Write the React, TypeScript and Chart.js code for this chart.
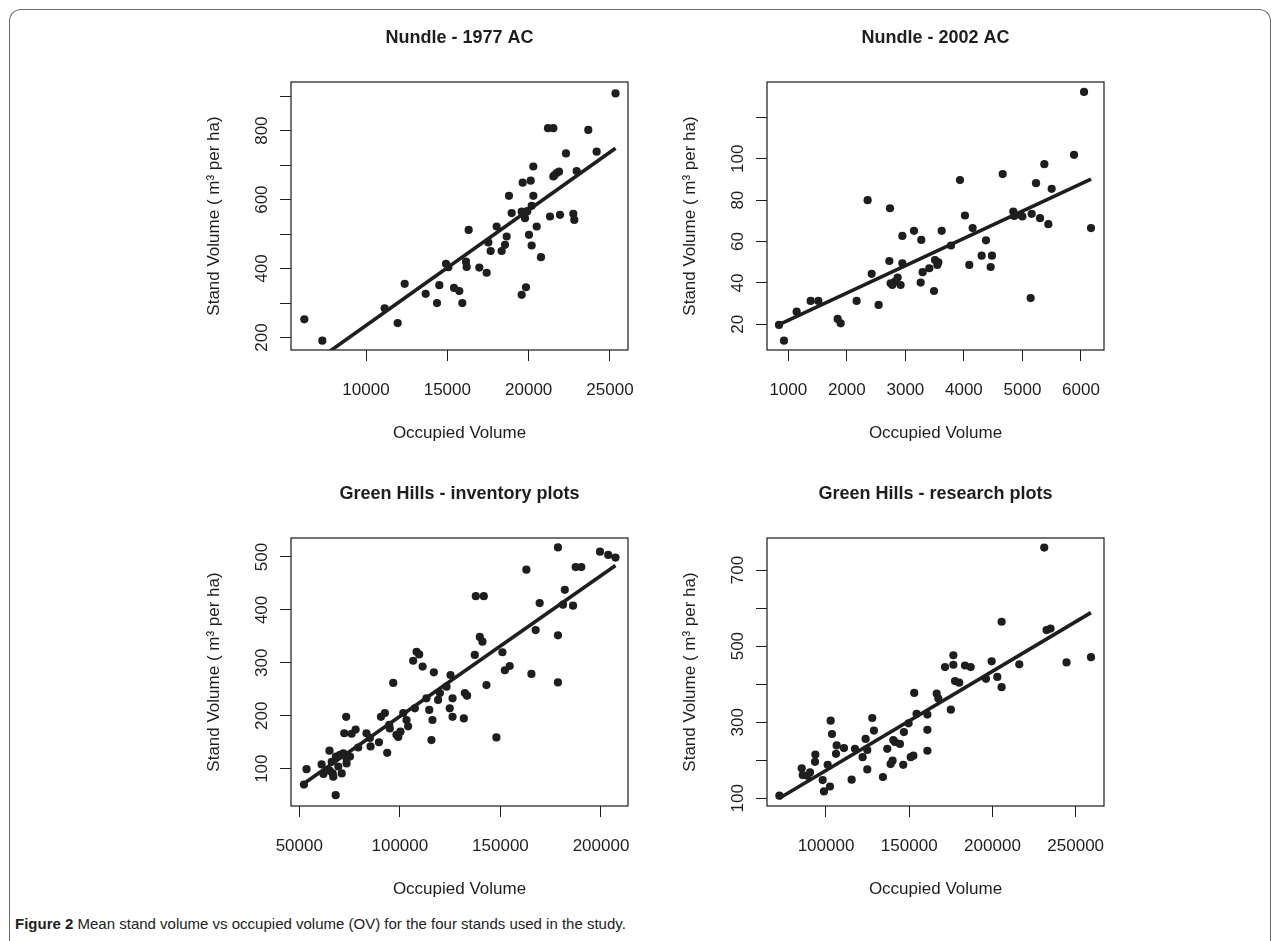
import React, { useEffect, useRef } from "react";
import { Chart, registerables } from "chart.js";

Chart.register(...registerables);

// ---------------- Nundle - 1977 AC ----------------
const nundle1977X = [6209, 7316, 11147, 11947, 12377, 13668, 14364, 14508, 14918, 15061, 15410, 15737, 15922, 16311, 16147, 16188, 16967, 17418, 17520, 17663, 18032, 18340, 18545, 18647, 18791, 18955, 19569, 19836, 19633, 19571, 19879, 19774, 20020, 20125, 20286, 20184, 19918, 20184, 20286, 20494, 20757, 21188, 21516, 21311, 21516, 21723, 21575, 21864, 21926, 22295, 22745, 22807, 22950, 23667, 24179, 25340];
const nundle1977Y = [253, 191, 285, 242, 356, 327, 300, 352, 414, 404, 344, 335, 300, 512, 420, 405, 403, 388, 476, 451, 522, 451, 469, 493, 611, 561, 324, 346, 649, 565, 565, 546, 498, 655, 611, 582, 567, 467, 696, 522, 433, 807, 807, 551, 667, 677, 670, 681, 556, 734, 559, 541, 683, 802, 739, 908];
const nundle1977FitX = [6209, 25340];
const nundle1977FitY = [108, 749];
const nundle1977XRange = [5389, 26107];
const nundle1977YRange = [164, 941];
const nundle1977XTicks = [10000, 15000, 20000, 25000];
const nundle1977XLabels = ["10000", "15000", "20000", "25000"];
const nundle1977YTicks = [200, 300, 400, 500, 600, 700, 800, 900];
const nundle1977YLabels = ["200", "", "400", "", "600", "", "800", ""];

// ---------------- Nundle - 2002 AC ----------------
const nundle2002X = [841, 926, 1142, 1382, 1513, 1843, 1894, 2167, 2355, 2424, 2543, 2726, 2737, 2748, 2777, 2822, 2868, 2919, 2948, 2948, 3147, 3272, 3261, 3295, 3409, 3489, 3506, 3546, 3563, 3620, 3779, 3933, 4018, 4092, 4149, 4303, 4377, 4457, 4479, 4662, 4844, 4861, 4969, 4998, 5140, 5157, 5232, 5300, 5374, 5442, 5499, 5881, 6052, 6171];
const nundle2002Y = [19.7, 12.1, 26.1, 31.3, 31.3, 22.6, 20.5, 31.3, 80.0, 44.4, 29.4, 50.6, 76.1, 39.8, 39.0, 40.6, 42.6, 39.0, 62.7, 49.5, 65.2, 60.8, 40.2, 45.2, 47.1, 36.1, 51.1, 48.7, 50.0, 65.2, 58.1, 89.7, 72.6, 48.7, 66.5, 53.2, 60.6, 47.7, 53.2, 92.6, 74.5, 72.4, 72.9, 72.1, 32.7, 73.4, 88.2, 71.3, 97.4, 68.4, 85.5, 101.9, 132.3, 66.5];
const nundle2002FitX = [841, 6171];
const nundle2002FitY = [19.9, 90.2];
const nundle2002XRange = [636, 6393];
const nundle2002YRange = [7.6, 137.1];
const nundle2002XTicks = [1000, 2000, 3000, 4000, 5000, 6000];
const nundle2002XLabels = ["1000", "2000", "3000", "4000", "5000", "6000"];
const nundle2002YTicks = [20, 40, 60, 80, 100, 120];
const nundle2002YLabels = ["20", "40", "60", "80", "100", ""];

// ---------------- Green Hills - inventory plots ----------------
const inventoryX = [52300, 53600, 61100, 62000, 65000, 65200, 66100, 66600, 66900, 68100, 68200, 69400, 70200, 71100, 71900, 73500, 73500, 75200, 73300, 72350, 76000, 78000, 79300, 83400, 85100, 85430, 89600, 90600, 92550, 93700, 94700, 95000, 96700, 98300, 99200, 100300, 101700, 103300, 104100, 106600, 108300, 109600, 111300, 107450, 113200, 115700, 114600, 116200, 116900, 119000, 119900, 123200, 125200, 124800, 126200, 126200, 131800, 132300, 133400, 137250, 137750, 141720, 139730, 141060, 143050, 148000, 151000, 152200, 154600, 162900, 165400, 167500, 169500, 178600, 178600, 178600, 181100, 182000, 186100, 187400, 190200, 199500, 203600, 207200];
const inventoryY = [70, 99, 108, 90, 134, 96, 113, 91, 85, 50, 123, 104, 126, 91, 129, 110, 119, 123, 198, 167, 166, 174, 140, 167, 158, 142, 150, 198, 205, 130, 183, 176, 262, 164, 160, 170, 205, 192, 180, 304, 321, 316, 293, 214, 233, 154, 211, 192, 282, 230, 243, 255, 277, 214, 198, 233, 195, 243, 238, 315, 426, 426, 349, 340, 258, 159, 320, 286, 294, 476, 279, 362, 413, 518, 352, 263, 410, 438, 408, 481, 481, 510, 504, 499];
const inventoryFitX = [52300, 207200];
const inventoryFitY = [72, 484];
const inventoryXRange = [45873, 213424];
const inventoryYRange = [29.5, 535.9];
const inventoryXTicks = [50000, 100000, 150000, 200000];
const inventoryXLabels = ["50000", "100000", "150000", "200000"];
const inventoryYTicks = [100, 200, 300, 400, 500];
const inventoryYLabels = ["100", "200", "300", "400", "500"];

// ---------------- Green Hills - research plots ----------------
const researchX = [72000, 85400, 86000, 88800, 90400, 93400, 93600, 98000, 98800, 102400, 101000, 102800, 103600, 106000, 106400, 110800, 115400, 117400, 122000, 124800, 123800, 124800, 127800, 128800, 134200, 136800, 140000, 138800, 140400, 141400, 144400, 146800, 146400, 149600, 150900, 152500, 153000, 154400, 160900, 160900, 160900, 166500, 167500, 171500, 175000, 176500, 176500, 177500, 180000, 183500, 186900, 196100, 199500, 202900, 205500, 205500, 216100, 231100, 232500, 234900, 244500, 259200];
const researchY = [107, 179, 161, 159, 168, 196, 215, 148, 118, 131, 188, 304, 269, 217, 239, 232, 149, 230, 208, 176, 256, 227, 311, 278, 156, 230, 199, 190, 253, 248, 243, 274, 188, 297, 208, 212, 377, 322, 320, 280, 225, 375, 362, 445, 333, 476, 451, 408, 404, 449, 445, 414, 460, 419, 392, 564, 452, 759, 542, 546, 457, 471];
const researchFitX = [71958, 259159];
const researchFitY = [100, 588];
const researchXRange = [64558, 267000];
const researchYRange = [79.8, 784.1];
const researchXTicks = [100000, 150000, 200000, 250000];
const researchXLabels = ["100000", "150000", "200000", "250000"];
const researchYTicks = [100, 200, 300, 400, 500, 600, 700];
const researchYLabels = ["100", "", "300", "", "500", "", "700"];

const panelTitles = ["Nundle - 1977 AC", "Nundle - 2002 AC", "Green Hills - inventory plots", "Green Hills - research plots"];
const xAxisTitle = "Occupied Volume";
const yAxisTitle = "Stand Volume ( m\u00B3 per ha)";

const INK = "#1e1e1e";
const FONT = "'Liberation Sans', Arial, Helvetica, sans-serif";

type PanelData = {
  title: string;
  xs: number[];
  ys: number[];
  fitX: number[];
  fitY: number[];
  xRange: number[];
  yRange: number[];
  xTicks: number[];
  xLabels: string[];
  yTicks: number[];
  yLabels: string[];
};

const panels: PanelData[] = [
  { title: panelTitles[0], xs: nundle1977X, ys: nundle1977Y, fitX: nundle1977FitX, fitY: nundle1977FitY, xRange: nundle1977XRange, yRange: nundle1977YRange, xTicks: nundle1977XTicks, xLabels: nundle1977XLabels, yTicks: nundle1977YTicks, yLabels: nundle1977YLabels },
  { title: panelTitles[1], xs: nundle2002X, ys: nundle2002Y, fitX: nundle2002FitX, fitY: nundle2002FitY, xRange: nundle2002XRange, yRange: nundle2002YRange, xTicks: nundle2002XTicks, xLabels: nundle2002XLabels, yTicks: nundle2002YTicks, yLabels: nundle2002YLabels },
  { title: panelTitles[2], xs: inventoryX, ys: inventoryY, fitX: inventoryFitX, fitY: inventoryFitY, xRange: inventoryXRange, yRange: inventoryYRange, xTicks: inventoryXTicks, xLabels: inventoryXLabels, yTicks: inventoryYTicks, yLabels: inventoryYLabels },
  { title: panelTitles[3], xs: researchX, ys: researchY, fitX: researchFitX, fitY: researchFitY, xRange: researchXRange, yRange: researchYRange, xTicks: researchXTicks, xLabels: researchXLabels, yTicks: researchYTicks, yLabels: researchYLabels },
];

// layout of each panel's canvas (left, top) in page pixels
const panelPos = [
  [201, 0],
  [677, 0],
  [201, 456],
  [677, 456],
];

const CANVAS_W = 467;
const CANVAS_H = 450;
const Y_AXIS_W = 90;
const X_AXIS_H = 100;

const boxFrame = {
  id: "boxFrame",
  afterDraw(chart: any) {
    const { ctx, chartArea: a } = chart;
    ctx.save();
    ctx.strokeStyle = "#2a2a2a";
    ctx.lineWidth = 1.3;
    ctx.strokeRect(a.left, a.top, a.right - a.left, a.bottom - a.top);
    ctx.restore();
  },
};

function Panel({ p, left, top }: { p: PanelData; left: number; top: number }) {
  const ref = useRef<HTMLCanvasElement | null>(null);
  useEffect(() => {
    if (!ref.current) return;
    const chart = new Chart(ref.current, {
      type: "scatter",
      data: {
        datasets: [
          {
            type: "scatter",
            data: p.xs.map((x, i) => ({ x, y: p.ys[i] })),
            pointRadius: 4.1,
            pointHoverRadius: 4.1,
            pointStyle: "circle",
            pointBackgroundColor: INK,
            pointBorderWidth: 0,
            borderWidth: 0,
          } as any,
          {
            type: "line",
            data: p.fitX.map((x, i) => ({ x, y: p.fitY[i] })),
            borderColor: INK,
            borderWidth: 3.6,
            pointRadius: 0,
            fill: false,
            tension: 0,
            clip: 0,
          } as any,
        ],
      },
      options: {
        responsive: false,
        animation: false,
        events: [],
        layout: { padding: { left: 0, right: 40, top: 0, bottom: 0 } },
        plugins: {
          legend: { display: false },
          tooltip: { enabled: false },
          title: {
            display: true,
            text: p.title,
            fullSize: false,
            color: INK,
            font: { family: FONT, size: 18, weight: "bold" },
            padding: { top: 27.2, bottom: 33.2 },
          },
        },
        scales: {
          x: {
            type: "linear",
            position: "bottom",
            min: p.xRange[0],
            max: p.xRange[1],
            afterBuildTicks: (s: any) => {
              s.ticks = p.xTicks.map((v) => ({ value: v }));
            },
            afterFit: (s: any) => {
              s.height = X_AXIS_H;
            },
            ticks: {
              autoSkip: false,
              minRotation: 0,
              maxRotation: 0,
              padding: 19.5,
              color: INK,
              font: { family: FONT, size: 17 },
              callback: (v: any) => {
                const i = p.xTicks.indexOf(Number(v));
                return i >= 0 ? p.xLabels[i] : "";
              },
            },
            grid: { display: true, drawOnChartArea: false, drawTicks: true, tickLength: 11, color: INK, lineWidth: 1 },
            border: { display: false },
            title: {
              display: true,
              text: xAxisTitle,
              color: INK,
              font: { family: FONT, size: 17 },
              padding: { top: 0, bottom: 6.8 },
            },
          },
          y: {
            type: "linear",
            position: "left",
            min: p.yRange[0],
            max: p.yRange[1],
            afterBuildTicks: (s: any) => {
              s.ticks = p.yTicks.map((v) => ({ value: v }));
            },
            afterFit: (s: any) => {
              s.width = Y_AXIS_W;
            },
            ticks: {
              autoSkip: false,
              minRotation: 90,
              maxRotation: 90,
              crossAlign: "center",
              padding: 3.5,
              color: INK,
              font: { family: FONT, size: 17 },
              callback: (v: any) => {
                const i = p.yTicks.indexOf(Number(v));
                return i >= 0 ? p.yLabels[i] : "";
              },
            },
            grid: { display: true, drawOnChartArea: false, drawTicks: true, tickLength: 11, color: INK, lineWidth: 1 },
            border: { display: false },
            title: {
              display: true,
              text: yAxisTitle,
              color: INK,
              font: { family: FONT, size: 17 },
              padding: { top: 2.8, bottom: 0 },
            },
          },
        },
      } as any,
      plugins: [boxFrame],
    });
    return () => chart.destroy();
  }, [p]);
  return (
    <canvas
      ref={ref}
      width={CANVAS_W}
      height={CANVAS_H}
      style={{ position: "absolute", left, top, width: CANVAS_W, height: CANVAS_H }}
    />
  );
}

export default function App() {
  return (
    <div
      style={{
        position: "absolute",
        left: 0,
        top: 0,
        width: 1282,
        height: 941,
        background: "#ffffff",
        overflow: "hidden",
      }}
    >
      <div
        style={{
          position: "absolute",
          left: 9,
          top: 9,
          width: 1262,
          height: 960,
          border: "1.5px solid #6a6a6a",
          borderBottom: "none",
          borderRadius: "12px 12px 0 0",
          boxSizing: "border-box",
        }}
      />
      {panels.map((p, i) => (
        <Panel key={i} p={p} left={panelPos[i][0]} top={panelPos[i][1]} />
      ))}
      <div
        style={{
          position: "absolute",
          left: 15,
          top: 915,
          fontFamily: FONT,
          fontSize: 15,
          color: "#222",
          whiteSpace: "nowrap",
          lineHeight: "18px",
        }}
      >
        <b>Figure 2</b> Mean stand volume vs occupied volume (OV) for the four stands used in the study.
      </div>
    </div>
  );
}
